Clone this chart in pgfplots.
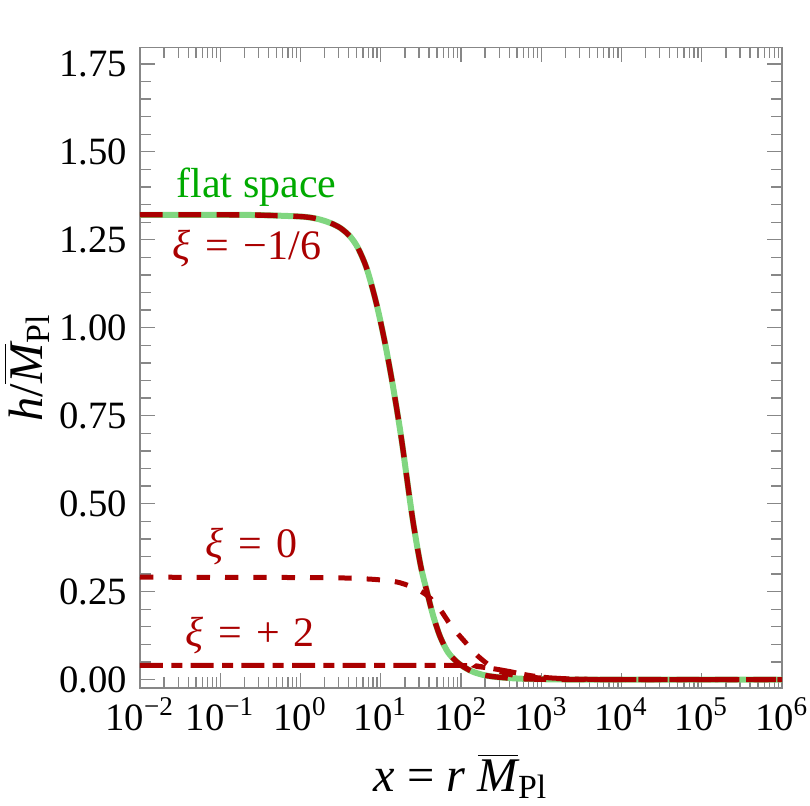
\documentclass[border=0pt]{standalone}
\usepackage{fontspec}
\setmainfont{Liberation Serif}
\usepackage{pgfplots}
\pgfplotsset{compat=1.18}

\definecolor{flatgreen}{RGB}{128,214,128}
\definecolor{labelgreen}{RGB}{0,170,0}
\definecolor{darkred}{RGB}{170,0,0}
\definecolor{framegray}{RGB}{135,135,135}

\newcommand{\Mpl}{$\overline{\mbox{\itshape M}}$\textsubscript{Pl}}
\newcommand{\eq}{\hspace{0.35em}=\hspace{0.35em}}

\begin{document}
\begin{tikzpicture}
\path[use as bounding box] (0,0) rectangle (243pt,241.5pt);
\begin{axis}[
  at={(42pt,35.1pt)}, anchor=south west,
  width=192.6pt, height=192.2pt, scale only axis,
  xmode=log, xmin=1e-2, xmax=1e6,
  ymin=-0.024, ymax=1.797,
  xtick={1e-2,1e-1,1,1e1,1e2,1e3,1e4,1e5,1e6},
  xticklabels={10\textsuperscript{−2},10\textsuperscript{−1},10\textsuperscript{0},10\textsuperscript{1},10\textsuperscript{2},10\textsuperscript{3},10\textsuperscript{4},10\textsuperscript{5},10\textsuperscript{6}},
  minor xtick={2e-2,3e-2,4e-2,5e-2,6e-2,7e-2,8e-2,9e-2,
    0.2,0.3,0.4,0.5,0.6,0.7,0.8,0.9,
    2,3,4,5,6,7,8,9,
    20,30,40,50,60,70,80,90,
    200,300,400,500,600,700,800,900,
    2000,3000,4000,5000,6000,7000,8000,9000,
    2e4,3e4,4e4,5e4,6e4,7e4,8e4,9e4,
    2e5,3e5,4e5,5e5,6e5,7e5,8e5,9e5},
  ytick={0,0.25,0.5,0.75,1,1.25,1.5,1.75},
  minor y tick num=4,
  yticklabel style={/pgf/number format/fixed, /pgf/number format/precision=2,
    /pgf/number format/fixed zerofill, anchor=east, inner sep=0pt, xshift=-3.6pt},
  xticklabel style={anchor=base, inner sep=0pt, yshift=-12.6pt},
  /pgf/number format/assume math mode=true,
  ticklabel style={font=\fontsize{11.6}{13}\selectfont, black},
  xtick pos=both, ytick pos=both, tick align=inside,
  major tick length=4.4pt, minor tick length=3.2pt,
  tick style={framegray, line width=0.4pt},
  axis line style={framegray, line width=0.4pt},
  xlabel={\textit{x} = \textit{r} \Mpl},
  ylabel={\textit{h}/\Mpl},
  label style={font=\fontsize{14.5}{17}\selectfont},
  xlabel style={at={(axis description cs:0.5,-0.1619)}, anchor=base},
  ylabel style={at={(axis description cs:-0.1526,0.5)}, anchor=base, rotate=0},
]
% flat space
\addplot[flatgreen, line width=1.8pt, smooth, tension=0.5] coordinates {
(0.01,1.321) (0.1,1.321) (0.3162,1.320) (1,1.316) (1.585,1.310) (2.344,1.298)
(3.162,1.283) (4.169,1.259) (5.248,1.225) (6.761,1.165) (8.913,1.065)
(11.22,0.960) (13.80,0.850) (16.60,0.740) (18.62,0.665) (20.65,0.590)
(22.91,0.515) (25.41,0.445) (28.84,0.370) (32.36,0.310) (38.90,0.237)
(45.19,0.180) (54.95,0.122) (69.18,0.077) (93.33,0.046) (134.9,0.024)
(199.5,0.012) (316.2,0.006) (631.0,0.002) (1585,0.0005) (3981,0) (1e6,0)
};
% xi = -1/6
\addplot[darkred, line width=1.6pt, dash pattern=on 6.8pt off 4.7pt, smooth, tension=0.5] coordinates {
(0.01,1.321) (0.1,1.321) (0.3162,1.320) (1,1.316) (1.585,1.310) (2.344,1.298)
(3.162,1.283) (4.169,1.259) (5.248,1.225) (6.761,1.165) (8.913,1.065)
(11.22,0.960) (13.80,0.850) (16.60,0.740) (18.62,0.665) (20.65,0.590)
(22.91,0.515) (25.41,0.445) (28.84,0.370) (32.36,0.310) (38.90,0.237)
(45.19,0.180) (54.95,0.122) (69.18,0.077) (93.33,0.046) (134.9,0.024)
(199.5,0.012) (316.2,0.006) (631.0,0.002) (1585,0.0005) (3981,0) (1e6,0)
};
% xi = 0
\addplot[darkred, line width=1.5pt, dash pattern=on 4pt off 4.5pt, smooth, tension=0.5] coordinates {
(0.01,0.291) (1,0.290) (3.162,0.289) (7.943,0.285) (14.45,0.279) (19.95,0.271)
(28.18,0.257) (38.90,0.237) (54.95,0.199) (75.86,0.152) (112.2,0.107)
(158.5,0.069) (251.2,0.033) (398.1,0.015) (794.3,0.006) (1585,0.003)
(3981,0.0008) (1e4,0) (1e6,0)
};
% xi = +2
\addplot[darkred, line width=1.5pt, dash pattern=on 6.9pt off 2.5pt on 3.3pt off 2.5pt, smooth, tension=0.5] coordinates {
(0.01,0.040) (1,0.040) (100,0.040) (158.5,0.037) (251.2,0.031) (398.1,0.023)
(562.3,0.016) (794.3,0.010) (1259,0.005) (2512,0.0015) (6310,0) (1e6,0)
};
\node[anchor=base west, inner sep=0pt, text=labelgreen, font=\fontsize{12.6}{15}\selectfont] at (axis cs:0.0281,1.369) {flat space};
\node[anchor=base west, inner sep=0pt, text=darkred, font=\fontsize{12.6}{15}\selectfont] at (axis cs:0.02506,1.193) {\textit{ξ}\eq−1/6};
\node[anchor=base west, inner sep=0pt, text=darkred, font=\fontsize{12.6}{15}\selectfont] at (axis cs:0.0646,0.348) {\textit{ξ}\eq0};
\node[anchor=base west, inner sep=0pt, text=darkred, font=\fontsize{12.6}{15}\selectfont] at (axis cs:0.0364,0.093) {\textit{ξ}\eq+\hspace{0.3em}2};
\end{axis}
\end{tikzpicture}
\end{document}
